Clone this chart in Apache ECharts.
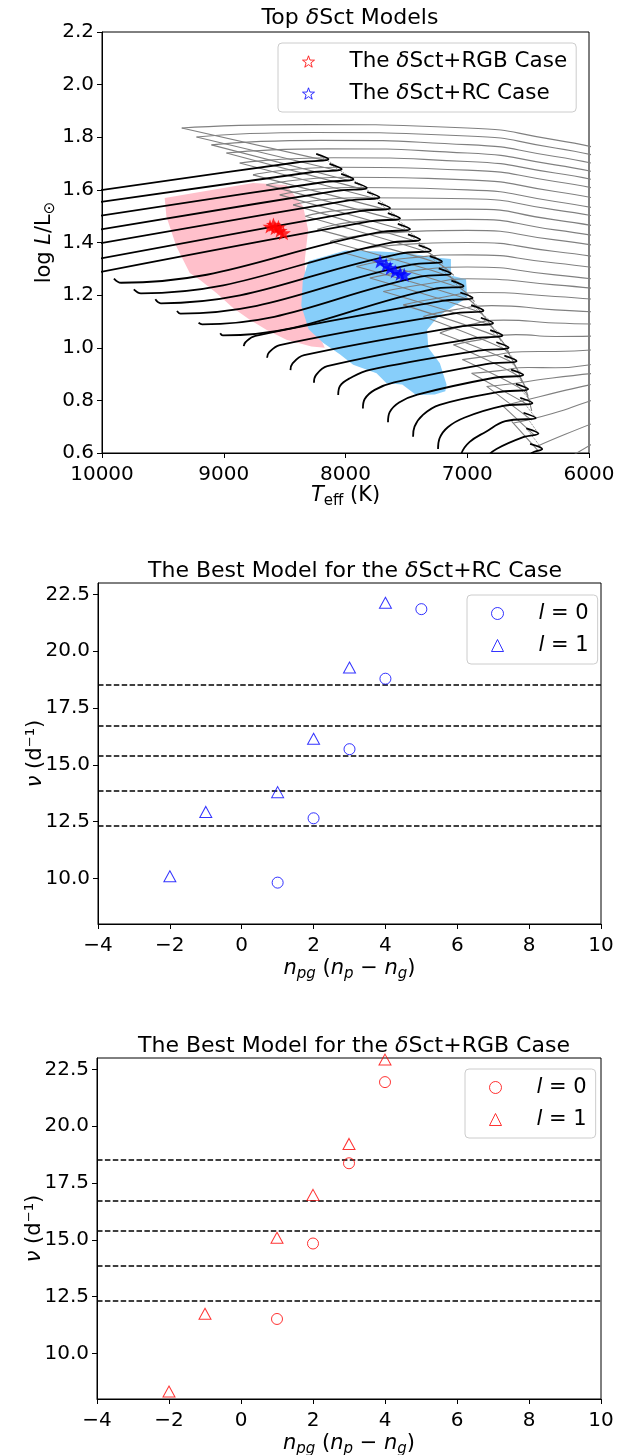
<!DOCTYPE html>
<html>
<head>
<meta charset="utf-8">
<script src="https://cdn.jsdelivr.net/npm/echarts@6/dist/echarts.min.js"></script>
<style>
	html, body { margin: 0; padding: 0; background: #fff; }
	#chart { width: 632px; height: 1455px; }
</style>
</head>
<body>
<div id="chart"></div>
<script>
var fontName = "DejaVu Sans";

// ---- top panel: evolutionary tracks, every point is [Teff, logL] ----
// main-sequence part (black): start of track, then knee, apex and top of the hook
var trackStarts = [
	[[10100, 1.593]],
	[[10100, 1.548]],
	[[10100, 1.496]],
	[[10100, 1.443]],
	[[10100, 1.390]],
	[[10100, 1.332]],
	[[10100, 1.280]],
	[[9902, 1.263], [9843, 1.247]],
	[[9739, 1.222], [9680, 1.207]],
	[[9562, 1.184], [9517, 1.169]],
	[[9384, 1.140], [9355, 1.130]],
	[[9207, 1.095], [9177, 1.089]],
	[[9029, 1.055], [9008, 1.047]],
	[[8836, 1.006], [8820, 1.022], [8740, 1.045]],
	[[8644, 0.962], [8628, 0.982], [8540, 1.010]],
	[[8452, 0.915], [8436, 0.940], [8340, 0.972]],
	[[8259, 0.867], [8244, 0.895], [8150, 0.930]],
	[[8060, 0.820], [8045, 0.855], [7960, 0.885], [7800, 0.916]],
	[[7857, 0.769], [7842, 0.805], [7760, 0.840], [7600, 0.868]],
	[[7651, 0.717], [7637, 0.755], [7560, 0.792], [7410, 0.822]],
	[[7445, 0.662], [7433, 0.700], [7364, 0.745], [7227, 0.783]],
	[[7240, 0.615], [7228, 0.655], [7160, 0.698], [7020, 0.735]],
	[[7060, 0.555], [7048, 0.598], [6980, 0.642], [6850, 0.680]],
	[[6900, 0.500], [6890, 0.540], [6850, 0.580], [6760, 0.615]],
	[[6680, 0.435], [6670, 0.475], [6620, 0.515], [6530, 0.555]]
];
var trackKnees = [
	[8390, 1.705], [8281, 1.667], [8185, 1.629], [8075, 1.596], [7971, 1.560],
	[7884, 1.519], [7802, 1.480], [7720, 1.439], [7637, 1.399], [7549, 1.358],
	[7458, 1.316], [7384, 1.270], [7280, 1.223], [7206, 1.178], [7117, 1.130],
	[7038, 1.082], [6961, 1.035], [6910, 0.989], [6845, 0.938], [6790, 0.885],
	[6750, 0.831], [6715, 0.778], [6687, 0.721], [6540, 0.660], [6470, 0.600]
];
var trackApexes = [
	[8140, 1.717], [8031, 1.679], [7935, 1.641], [7825, 1.608], [7721, 1.572],
	[7634, 1.531], [7552, 1.492], [7470, 1.451], [7387, 1.411], [7299, 1.370],
	[7208, 1.328], [7134, 1.282], [7030, 1.235], [6956, 1.190], [6867, 1.142],
	[6788, 1.094], [6711, 1.047], [6660, 1.001], [6595, 0.950], [6540, 0.897],
	[6500, 0.843], [6465, 0.790], [6437, 0.733], [6415, 0.674], [6384, 0.615]
];
var trackHookTops = [
	[8240, 1.737], [8131, 1.699], [8035, 1.661], [7925, 1.628], [7821, 1.592],
	[7734, 1.551], [7652, 1.512], [7570, 1.471], [7487, 1.431], [7399, 1.390],
	[7308, 1.348], [7234, 1.302], [7130, 1.255], [7056, 1.210], [6967, 1.162],
	[6888, 1.114], [6811, 1.067], [6760, 1.021], [6695, 0.970], [6640, 0.917],
	[6600, 0.863], [6565, 0.810], [6537, 0.753], [6515, 0.694], [6484, 0.635]
];

// later phases (grey): loop from the right edge to its hottest point, and the way back
var loopArcs = [
	[[9345, 1.835], [8300, 1.848], [7000, 1.835], [6278, 1.790], [5900, 1.755]],
	[[9224, 1.801], [8250, 1.818], [7000, 1.805], [6278, 1.759], [5900, 1.725]],
	[[9101, 1.771], [8200, 1.788], [7000, 1.772], [6278, 1.727], [5900, 1.693]],
	[[8978, 1.740], [8150, 1.756], [7000, 1.740], [6278, 1.695], [5900, 1.662]],
	[[8869, 1.702], [8100, 1.722], [7000, 1.708], [6278, 1.664], [5900, 1.632]],
	[[8760, 1.657], [8050, 1.686], [7000, 1.675], [6278, 1.632], [5900, 1.600]],
	[[8650, 1.619], [8000, 1.648], [7000, 1.638], [6278, 1.594], [5900, 1.563]],
	[[8540, 1.581], [7950, 1.609], [7000, 1.600], [6278, 1.556], [5900, 1.526]],
	[[8430, 1.543], [7900, 1.570], [7000, 1.566], [6278, 1.524], [5900, 1.495]],
	[[8330, 1.500], [7850, 1.527], [7000, 1.527], [6278, 1.486], [5900, 1.458]],
	[[8230, 1.450], [7800, 1.482], [7000, 1.488], [6278, 1.448], [5900, 1.421]],
	[[8127, 1.404], [7700, 1.435], [7000, 1.446], [6278, 1.410], [5900, 1.384]],
	[[8006, 1.360], [7600, 1.390], [7000, 1.400], [6278, 1.366], [5900, 1.342]],
	[[7910, 1.309], [7500, 1.340], [7000, 1.353], [6278, 1.322], [5900, 1.300]],
	[[7800, 1.265], [7400, 1.295], [7000, 1.307], [6278, 1.277], [5900, 1.257]],
	[[7689, 1.214], [7300, 1.245], [7000, 1.262], [6278, 1.239], [5900, 1.222]],
	[[7525, 1.163], [7200, 1.192], [6900, 1.210], [6278, 1.195], [5900, 1.182]],
	[[7360, 1.119], [7100, 1.145], [6800, 1.160], [6278, 1.144], [5900, 1.135]],
	[[7225, 1.056], [7000, 1.085], [6700, 1.105], [6278, 1.094], [5900, 1.090]],
	[[7113, 1.011], [6900, 1.030], [6600, 1.050], [6278, 1.043], [5900, 1.045]],
	[[7040, 0.955], [6800, 0.970], [6550, 0.985], [6278, 0.986], [5900, 0.995]],
	[[6964, 0.903], [6750, 0.912], [6500, 0.925], [6278, 0.924], [5900, 0.945]],
	[[6840, 0.853], [6650, 0.862], [6300, 0.885], [5900, 0.905]],
	[[6730, 0.776], [6400, 0.815], [6004, 0.858], [5900, 0.868]],
	[[6620, 0.714], [6300, 0.750], [6004, 0.796], [5900, 0.810]],
	[[6428, 0.625], [6200, 0.670], [5900, 0.725]],
	[[6250, 0.560], [6100, 0.600], [5900, 0.655]]
];
var loopReturns = [
	[[9345, 1.835], [8170, 1.712]],
	[[9224, 1.801], [8060, 1.673]],
	[[9101, 1.771], [7965, 1.635]],
	[[8978, 1.740], [7855, 1.602]],
	[[8869, 1.702], [7750, 1.566]],
	[[8760, 1.657], [7665, 1.525]],
	[[8650, 1.619], [7585, 1.486]],
	[[8540, 1.581], [7500, 1.445]],
	[[8430, 1.543], [7420, 1.405]],
	[[8330, 1.500], [7330, 1.364], [7200, 1.320]],
	[[8230, 1.450], [7240, 1.322], [7110, 1.275]],
	[[8127, 1.404], [7165, 1.275], [7030, 1.225]],
	[[8006, 1.360], [7065, 1.228], [6940, 1.175]],
	[[7910, 1.309], [6990, 1.183], [6870, 1.125]],
	[[7800, 1.265], [6900, 1.135], [6790, 1.075]],
	[[7689, 1.214], [6820, 1.087], [6720, 1.025]],
	[[7525, 1.163], [6745, 1.040], [6650, 0.975]],
	[[7360, 1.119], [6690, 0.993], [6600, 0.925]],
	[[7225, 1.056], [6625, 0.942], [6550, 0.870]],
	[[7113, 1.011], [6570, 0.889], [6500, 0.815]],
	[[7040, 0.955], [6530, 0.835], [6470, 0.760]],
	[[6964, 0.903], [6495, 0.782]],
	[[6840, 0.853], [6470, 0.725]],
	[[6717, 0.783], [6445, 0.666]],
	[[6635, 0.720], [6415, 0.607]]
];

// areas covered by the selected models
var pinkRegion = [
	[9485, 1.569], [9100, 1.600], [8759, 1.626], [8485, 1.619], [8348, 1.537],
	[8307, 1.448], [8334, 1.334], [8330, 1.200], [8250, 1.080], [8170, 1.000],
	[8280, 1.005], [8485, 1.030], [8650, 1.068], [8786, 1.106], [8923, 1.151],
	[9060, 1.208], [9197, 1.258], [9279, 1.284], [9389, 1.385], [9471, 1.499]
];
var blueRegion = [
	[8303, 1.330], [8150, 1.350], [8000, 1.370], [7717, 1.366], [7497, 1.360],
	[7300, 1.345], [7134, 1.337], [7134, 1.275], [7010, 1.260], [7000, 1.190],
	[7116, 1.157], [7238, 1.120], [7330, 1.068], [7320, 1.000], [7225, 0.941],
	[7170, 0.860], [7180, 0.835], [7267, 0.822], [7420, 0.820], [7534, 0.860],
	[7663, 0.865], [7745, 0.903], [7937, 0.935], [8047, 0.975], [8185, 1.019],
	[8303, 1.070], [8363, 1.160], [8350, 1.260]
];
var rgbStars = [[8620, 1.461], [8592, 1.468], [8578, 1.455], [8551, 1.459], [8537, 1.445], [8510, 1.436]];
var rcStars = [[7716, 1.328], [7666, 1.315], [7633, 1.303], [7592, 1.290], [7551, 1.281], [7518, 1.277]];

var lumTicks = [0.6, 0.8, 1.0, 1.2, 1.4, 1.6, 1.8, 2.0, 2.2];

// ---- lower panels: frequency vs radial order ----
var nuTicks = [10, 12.5, 15, 17.5, 20, 22.5];
var observedFreqs = [12.34, 13.86, 15.41, 16.70, 18.53];
var rcL0 = [[1, 9.82], [2, 12.65], [3, 15.69], [4, 18.79], [5, 21.85]];
var rcL1 = [[-2, 10.10], [-1, 12.93], [1, 13.80], [2, 16.15], [3, 19.28], [4, 22.13]];
var rgbL0 = [[1, 11.52], [2, 14.84], [3, 18.37], [4, 21.94]];
var rgbL1 = [[-2, 8.33], [-1, 11.75], [1, 15.09], [2, 16.98], [3, 19.22], [4, 22.93]];

var starPath = "path://M0,-10L2.35,-3.24L9.51,-3.09L3.8,1.24L5.88,8.09L0,4L-5.88,8.09L-3.8,1.24L-9.51,-3.09L-2.35,-3.24Z";

function richSet(size) {
	var base = { fontFamily: fontName, fontWeight: "normal", color: "#000" };
	return {
		n: Object.assign({ fontSize: size, lineHeight: 26 }, base),
		i: Object.assign({ fontSize: size, lineHeight: 26, fontStyle: "italic" }, base),
		sub: Object.assign({ fontSize: Math.round(size * 0.7), lineHeight: 15, verticalAlign: "bottom" }, base),
		isub: Object.assign({ fontSize: Math.round(size * 0.7), lineHeight: 15, verticalAlign: "bottom", fontStyle: "italic" }, base),
		sp: { width: 30, lineHeight: 25 }
	};
}

function textStyle(size) {
	return { fontFamily: fontName, fontSize: size, fontWeight: "normal", color: "#000", rich: richSet(size) };
}

function line(points, color, width, type, smooth, z) {
	return {
		type: "line",
		xAxisIndex: 0,
		yAxisIndex: 0,
		data: points,
		symbol: "none",
		smooth: smooth,
		silent: true,
		z: z,
		lineStyle: { color: color, width: width, type: type }
	};
}

function region(points, color) {
	return {
		type: "custom",
		xAxisIndex: 0,
		yAxisIndex: 0,
		silent: true,
		z: 1,
		data: [[8000, 1.2]],
		renderItem: function (params, api) {
			return {
				type: "polygon",
				shape: { points: points.map(function (p) { return api.coord(p); }) },
				style: { fill: color }
			};
		}
	};
}

function axisCommon(isX) {
	return {
		axisLine: { show: true, onZero: false, lineStyle: { color: "#000", width: 1 } },
		axisTick: { show: true, inside: false, length: 5, lineStyle: { color: "#000", width: 1 } },
		axisLabel: { fontFamily: fontName, fontSize: 20, color: "#000", margin: isX ? 12 : 8 },
		splitLine: { show: false },
		nameLocation: "middle",
		nameMoveOverlap: false,
		nameTextStyle: textStyle(21)
	};
}

function minusFormat(v) {
	return v < 0 ? "\u2212" + (-v) : String(v);
}

var series = [];
series.push(region(pinkRegion, "#ffc0cb"));
series.push(region(blueRegion, "#87cefa"));

loopArcs.forEach(function (pts) {
	series.push(line(pts, "#808080", 1.1, "solid", 0.6, 3));
});
loopReturns.forEach(function (pts) {
	series.push(line(pts, "#808080", 1.1, "solid", 0.2, 3));
});
for (var k = 0; k < trackApexes.length - 1; k++) {
	series.push(line([trackHookTops[k], trackApexes[k + 1]], "#777", 1, "dotted", false, 3));
}
for (var k = 0; k < trackApexes.length; k++) {
	var pts = trackStarts[k].concat([trackKnees[k], trackApexes[k], trackHookTops[k]]);
	series.push(line(pts, "#000", 1.8, "solid", 0.4, 4));
}

series.push({
	name: "The δSct+RGB Case", type: "scatter", xAxisIndex: 0, yAxisIndex: 0,
	data: rgbStars, symbol: starPath, symbolSize: 15, symbolKeepAspect: true, z: 6,
	itemStyle: { color: "#ff0000" }
});
series.push({
	name: "The δSct+RC Case", type: "scatter", xAxisIndex: 0, yAxisIndex: 0,
	data: rcStars, symbol: starPath, symbolSize: 15, symbolKeepAspect: true, z: 6,
	itemStyle: { color: "#0000ff" }
});

function freqPanel(idx, l0, l1, color, prefix) {
	series.push({
		name: prefix + "0", type: "scatter", xAxisIndex: idx, yAxisIndex: idx,
		data: l0, symbol: "circle", symbolSize: 11, z: 5,
		itemStyle: { color: "rgba(0,0,0,0)", borderColor: color, borderWidth: 1 }
	});
	series.push({
		name: prefix + "1", type: "scatter", xAxisIndex: idx, yAxisIndex: idx,
		data: l1, symbol: "triangle", symbolSize: [12, 11], z: 5,
		itemStyle: { color: "rgba(0,0,0,0)", borderColor: color, borderWidth: 1 },
		markLine: {
			silent: true,
			symbol: "none",
			label: { show: false },
			lineStyle: { color: "#000", width: 1.5, type: [5.5, 2.4] },
			data: observedFreqs.map(function (v) { return { yAxis: v }; })
		}
	});
}
freqPanel(1, rcL0, rcL1, "#0000ff", "rc");
freqPanel(2, rgbL0, rgbL1, "#ff0000", "rgb");

var legendNames = {
	"The δSct+RGB Case": "{sp|}{n|The }{i|δ}{n|Sct+RGB Case}",
	"The δSct+RC Case": "{sp|}{n|The }{i|δ}{n|Sct+RC Case}",
	"rc0": "{sp|}{i|l}{n| = 0}", "rc1": "{sp|}{i|l}{n| = 1}",
	"rgb0": "{sp|}{i|l}{n| = 0}", "rgb1": "{sp|}{i|l}{n| = 1}"
};

function legend(left, top, items, size) {
	var r = richSet(size);
	r.n.lineHeight = 25;
	r.i.lineHeight = 25;
	return {
		orient: "vertical",
		left: left,
		top: top,
		z: 10,
		selectedMode: false,
		itemWidth: 12,
		itemHeight: 12,
		itemGap: 7,
		padding: [6, 9, 6, 24],
		backgroundColor: "rgba(255,255,255,0.8)",
		borderColor: "#cccccc",
		borderWidth: 1,
		borderRadius: 4,
		formatter: function (name) { return legendNames[name]; },
		textStyle: { fontFamily: fontName, fontSize: size, color: "#000", lineHeight: 25, rich: r },
		data: items
	};
}

function hollow(name, icon, color) {
	return { name: name, icon: icon, itemStyle: { color: "#fff", borderColor: color, borderWidth: 1 } };
}

var gridBase = { show: true, borderColor: "#000", borderWidth: 1, containLabel: false, outerBoundsMode: "none" };

var option = {
	animation: false,
	backgroundColor: "#fff",
	title: [
		{ text: "{n|Top }{i|δ}{n|Sct Models}", left: 345, top: 0, textAlign: "center", textStyle: textStyle(22) },
		{ text: "{n|The Best Model for the }{i|δ}{n|Sct+RC Case}", left: 350, top: 553, textAlign: "center", textStyle: textStyle(22) },
		{ text: "{n|The Best Model for the }{i|δ}{n|Sct+RGB Case}", left: 349, top: 1028, textAlign: "center", textStyle: textStyle(22) }
	],
	grid: [
		Object.assign({ left: 102, top: 32, width: 487, height: 421 }, gridBase),
		Object.assign({ left: 98, top: 583, width: 503, height: 341 }, gridBase),
		Object.assign({ left: 97, top: 1058, width: 504, height: 341 }, gridBase)
	],
	xAxis: [
		Object.assign(axisCommon(true), {
			type: "value", gridIndex: 0, min: 6000, max: 10000, interval: 1000, inverse: true,
			name: "{i|T}{sub|eff}{n| (K)}", nameGap: 30
		}),
		Object.assign(axisCommon(true), {
			type: "value", gridIndex: 1, min: -4, max: 10, interval: 2,
			name: "{i|n}{isub|pg}{n| (}{i|n}{isub|p}{n| \u2212 }{i|n}{isub|g}{n|)}", nameGap: 32
		}),
		Object.assign(axisCommon(true), {
			type: "value", gridIndex: 2, min: -4, max: 10, interval: 2,
			name: "{i|n}{isub|pg}{n| (}{i|n}{isub|p}{n| \u2212 }{i|n}{isub|g}{n|)}", nameGap: 32
		})
	],
	yAxis: [
		Object.assign(axisCommon(false), {
			type: "value", gridIndex: 0, min: 0.6, max: 2.2,
			name: "{n|log }{i|L}{n|/L}{sub|\u2299}", nameGap: 44, nameRotate: 90
		}),
		Object.assign(axisCommon(false), {
			type: "value", gridIndex: 1, min: 8, max: 23,
			name: "{i|ν}{n| (d\u207b\u00b9)}", nameGap: 49, nameRotate: 90
		}),
		Object.assign(axisCommon(false), {
			type: "value", gridIndex: 2, min: 8, max: 23,
			name: "{i|ν}{n| (d\u207b\u00b9)}", nameGap: 49, nameRotate: 90
		})
	],
	legend: [
		legend(278, 43, [hollow("The δSct+RGB Case", starPath, "#ff0000"), hollow("The δSct+RC Case", starPath, "#0000ff")], 21.5),
		legend(467, 595, [hollow("rc0", "circle", "#0000ff"), hollow("rc1", "triangle", "#0000ff")], 21),
		legend(465, 1069, [hollow("rgb0", "circle", "#ff0000"), hollow("rgb1", "triangle", "#ff0000")], 21)
	],
	series: series
};

option.xAxis[0].axisLabel.formatter = function (v) { return String(v); };
option.xAxis[1].axisLabel.formatter = minusFormat;
option.xAxis[2].axisLabel.formatter = minusFormat;
option.yAxis[0].axisLabel.customValues = lumTicks;
option.yAxis[0].axisTick.customValues = lumTicks;
option.yAxis[0].axisLabel.formatter = function (v) { return v.toFixed(1); };
for (var i = 1; i < 3; i++) {
	option.yAxis[i].axisLabel.customValues = nuTicks;
	option.yAxis[i].axisTick.customValues = nuTicks;
	option.yAxis[i].axisLabel.formatter = function (v) { return v.toFixed(1); };
}

var chart = echarts.init(document.getElementById("chart"), null, { renderer: "canvas" });
chart.setOption(option);
</script>
</body>
</html>
